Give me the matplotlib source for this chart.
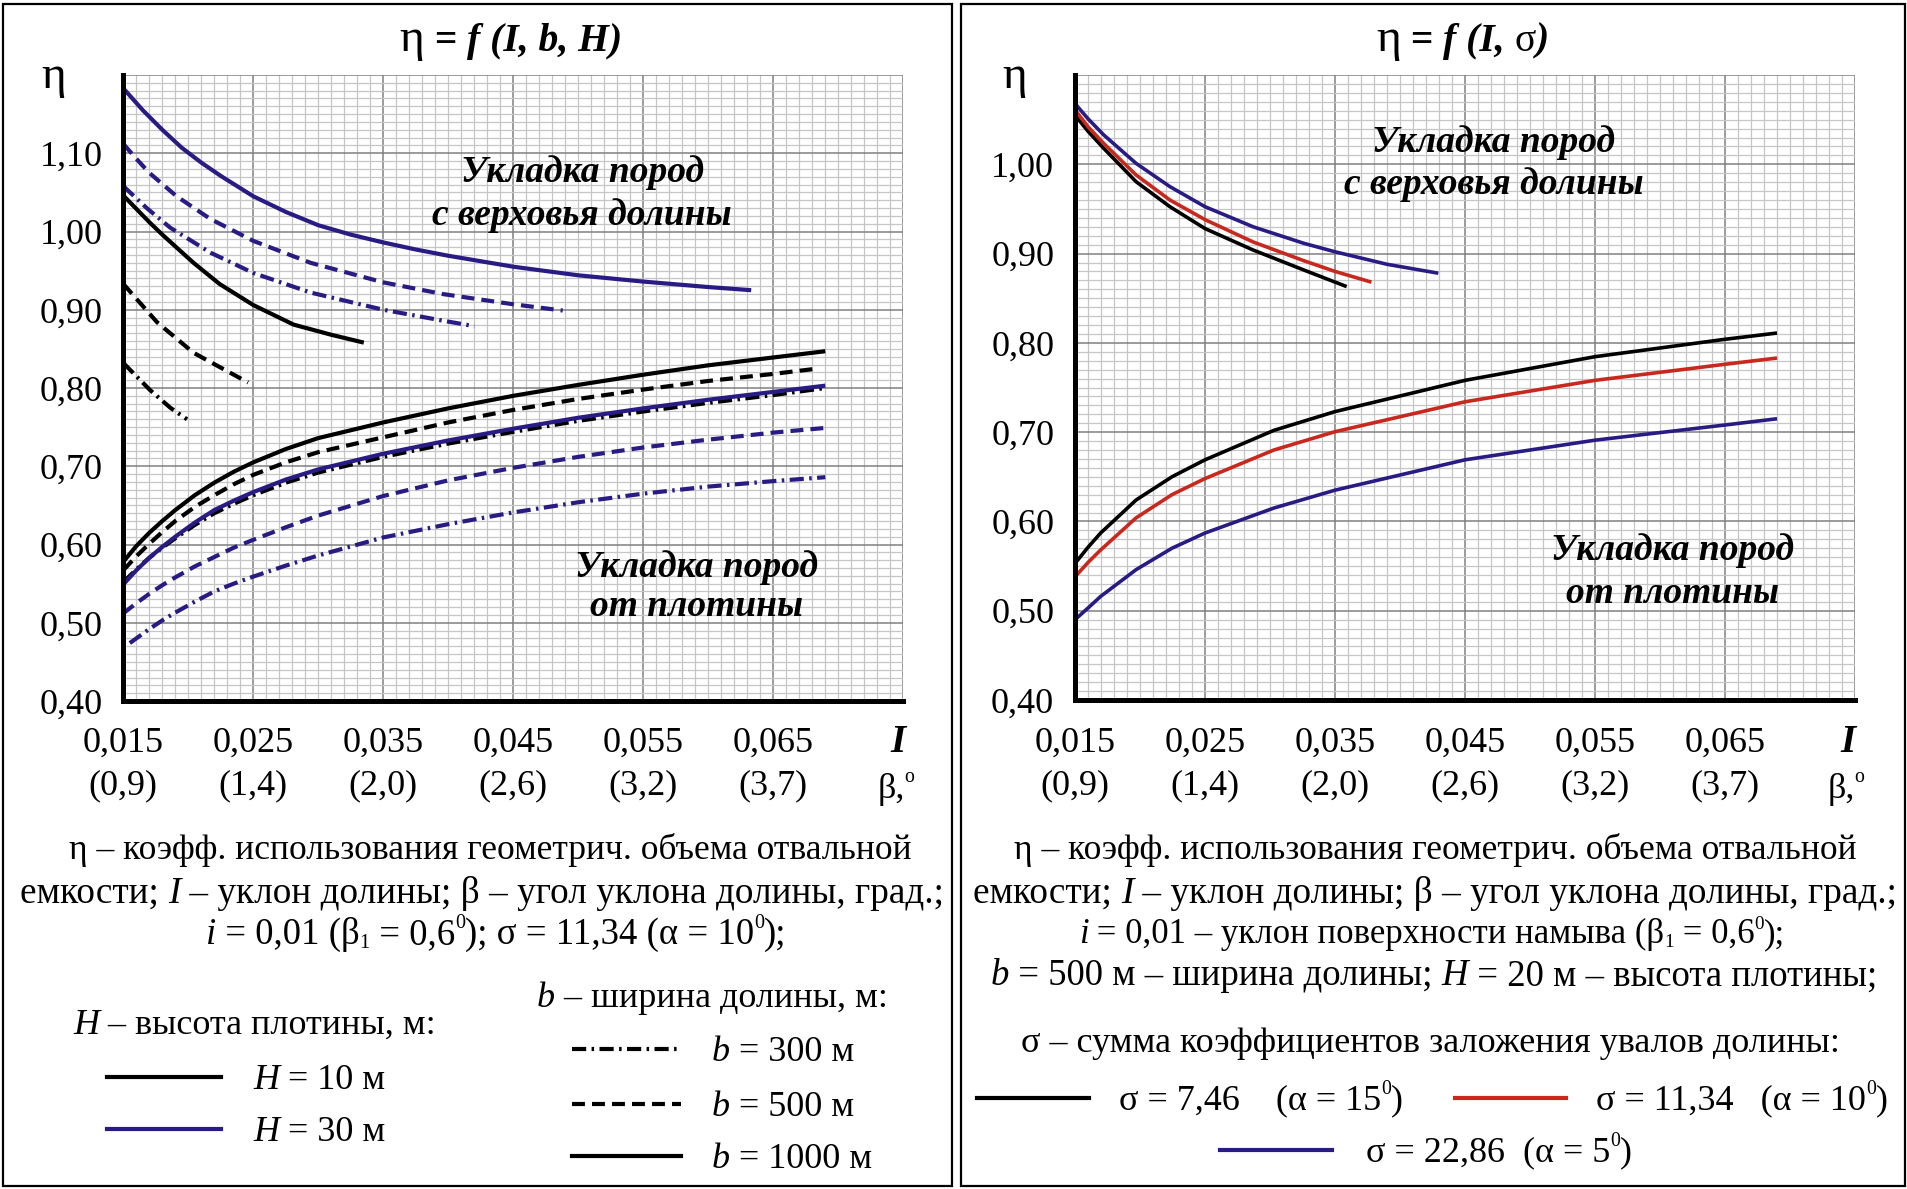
import numpy as np
import matplotlib
matplotlib.use('Agg')
import matplotlib.pyplot as plt
from matplotlib.lines import Line2D
from matplotlib.patches import Rectangle
from matplotlib.ticker import MultipleLocator
from matplotlib.transforms import blended_transform_factory

# ---------------- data ----------------
x_ticks = [0.015, 0.025, 0.035, 0.045, 0.055, 0.065]
x_tick_labels = ['0,015', '0,025', '0,035', '0,045', '0,055', '0,065']
beta_labels = ['(0,9)', '(1,4)', '(2,0)', '(2,6)', '(3,2)', '(3,7)']
yL_ticks = [0.40, 0.50, 0.60, 0.70, 0.80, 0.90, 1.00, 1.10]
yL_labels = ['0,40', '0,50', '0,60', '0,70', '0,80', '0,90', '1,00', '1,10']
yR_ticks = [0.40, 0.50, 0.60, 0.70, 0.80, 0.90, 1.00]
yR_labels = ['0,40', '0,50', '0,60', '0,70', '0,80', '0,90', '1,00']

# left panel: upper group ("с верховья долины")
up_H30_b1000_x = [0.015, 0.0165, 0.018, 0.0195, 0.021, 0.0225, 0.025, 0.0275, 0.030, 0.0325, 0.035,
                  0.0375, 0.040, 0.045, 0.050, 0.055, 0.060, 0.0633]
up_H30_b1000_y = [1.183, 1.155, 1.130, 1.107, 1.088, 1.071, 1.045, 1.025, 1.008, 0.996, 0.986,
                  0.977, 0.969, 0.955, 0.944, 0.936, 0.929, 0.925]
up_H30_b500_x = [0.015, 0.016, 0.017, 0.0191, 0.0217, 0.025, 0.0294, 0.035, 0.0396, 0.045, 0.0488]
up_H30_b500_y = [1.112, 1.093, 1.075, 1.045, 1.016, 0.988, 0.960, 0.935, 0.920, 0.907, 0.899]
up_H30_b300_x = [0.015, 0.0168, 0.0186, 0.0217, 0.025, 0.0294, 0.035, 0.0396, 0.042]
up_H30_b300_y = [1.058, 1.030, 1.005, 0.973, 0.947, 0.922, 0.900, 0.886, 0.879]
up_H10_b1000_x = [0.015, 0.016, 0.017, 0.018, 0.019, 0.0204, 0.0224, 0.025, 0.0281, 0.031, 0.0335]
up_H10_b1000_y = [1.046, 1.029, 1.012, 0.996, 0.981, 0.960, 0.933, 0.906, 0.881, 0.868, 0.858]
up_H10_b500_x = [0.015, 0.0176, 0.0204, 0.0246]
up_H10_b500_y = [0.933, 0.884, 0.845, 0.807]
up_H10_b300_x = [0.015, 0.01705, 0.0186, 0.0199]
up_H10_b300_y = [0.832, 0.7975, 0.775, 0.760]

# left panel: lower group ("от плотины")
lo_x = [0.015, 0.016, 0.017, 0.018, 0.019, 0.0205, 0.022, 0.0235, 0.025, 0.0275, 0.030,
        0.035, 0.040, 0.045, 0.050, 0.055, 0.060, 0.065, 0.069]
lo_H10_b1000_y = [0.578, 0.598, 0.615, 0.630, 0.644, 0.663, 0.679, 0.693, 0.705, 0.722, 0.736,
                  0.756, 0.774, 0.790, 0.804, 0.817, 0.829, 0.839, 0.847]
lo_H10_b500_x = [0.015, 0.016, 0.017, 0.018, 0.019, 0.0205, 0.022, 0.0235, 0.025, 0.0275, 0.030,
                 0.035, 0.040, 0.045, 0.050, 0.055, 0.060, 0.065, 0.068]
lo_H10_b500_y = [0.567, 0.585, 0.601, 0.616, 0.630, 0.648, 0.663, 0.677, 0.689, 0.705, 0.718,
                 0.737, 0.756, 0.772, 0.786, 0.798, 0.809, 0.818, 0.824]
lo_H10_b300_y = [0.552, 0.568, 0.583, 0.596, 0.608, 0.625, 0.640, 0.652, 0.663, 0.679, 0.692,
                 0.712, 0.729, 0.744, 0.758, 0.770, 0.781, 0.791, 0.800]
lo_H30_b1000_y = [0.549, 0.567, 0.583, 0.597, 0.610, 0.628, 0.644, 0.656, 0.667, 0.683, 0.696,
                  0.716, 0.733, 0.748, 0.762, 0.774, 0.785, 0.795, 0.803]
lo_H30_b500_y = [0.512, 0.525, 0.537, 0.548, 0.558, 0.572, 0.584, 0.596, 0.606, 0.622, 0.637,
                 0.662, 0.682, 0.698, 0.712, 0.724, 0.734, 0.743, 0.749]
lo_H30_b300_x = [0.0155, 0.016, 0.017, 0.018, 0.019, 0.0205, 0.022, 0.0235, 0.025, 0.0275, 0.030,
                 0.035, 0.040, 0.045, 0.050, 0.055, 0.060, 0.065, 0.069]
lo_H30_b300_y = [0.474, 0.480, 0.492, 0.503, 0.513, 0.527, 0.540, 0.550, 0.559, 0.573, 0.586,
                 0.609, 0.626, 0.641, 0.654, 0.665, 0.674, 0.681, 0.686]

# right panel: upper group
rup_s22_x = [0.015, 0.016, 0.0172, 0.0197, 0.0223, 0.025, 0.0287, 0.0326, 0.035, 0.039, 0.04295]
rup_s22_y = [1.068, 1.051, 1.033, 1.001, 0.975, 0.9525, 0.930, 0.9115, 0.902, 0.888, 0.878]
rup_s11_x = [0.015, 0.016, 0.0172, 0.0197, 0.0223, 0.025, 0.0287, 0.0326, 0.035, 0.0378]
rup_s11_y = [1.061, 1.042, 1.0235, 0.988, 0.960, 0.938, 0.913, 0.892, 0.880, 0.868]
rup_s7_x = [0.015, 0.016, 0.0172, 0.0197, 0.0223, 0.025, 0.0287, 0.0326, 0.0359]
rup_s7_y = [1.055, 1.037, 1.018, 0.9805, 0.9525, 0.928, 0.904, 0.8816, 0.863]

# right panel: lower group
rlo_x = [0.015, 0.016, 0.01697, 0.0197, 0.02246, 0.025, 0.0303, 0.035, 0.045, 0.055, 0.065, 0.069]
rlo_s7_y = [0.553, 0.571, 0.587, 0.624, 0.650, 0.669, 0.702, 0.723, 0.758, 0.7845, 0.804, 0.811]
rlo_s11_y = [0.538, 0.554, 0.568, 0.604, 0.630, 0.648, 0.680, 0.7005, 0.734, 0.758, 0.776, 0.783]
rlo_s22_y = [0.490, 0.503, 0.516, 0.546, 0.570, 0.587, 0.615, 0.635, 0.669, 0.691, 0.708, 0.715]

# ---------------- style ----------------
W, H = 1908, 1189
DPI = 100
SERIF = 'Liberation Serif'
plt.rcParams['font.family'] = SERIF
BLACK = '#000000'
BLUE = '#281c84'
RED = '#c8281e'
LW = 3.0
LWR = 2.6
SOLID = '-'
DASHED = (0, (3.1, 1.7))
DASHDOT = (0, (3.4, 1.3, 0.6, 1.3))

fig = plt.figure(figsize=(W / DPI, H / DPI), dpi=DPI, facecolor='white')


def fx(px):
    return px / W


def fy(py):
    return 1 - py / H


axL = fig.add_axes([fx(123.3), fy(701), 780 / W, 626 / H])
axR = fig.add_axes([fx(1075), fy(700), 780 / W, 625 / H])


def setup(ax, ymax, yt, yl):
    ax.set_xlim(0.015, 0.075)
    ax.set_ylim(0.40, ymax)
    ax.set_xticks(x_ticks + [0.075], [''] * 7)
    ax.set_yticks(yt + [round(yt[-1] + 0.1, 2)], yl + [''])
    ax.xaxis.set_minor_locator(MultipleLocator(0.001))
    ax.yaxis.set_minor_locator(MultipleLocator(0.01))
    ax.grid(which='minor', color='#c6c6c6', lw=0.9)
    ax.grid(which='major', color='#808080', lw=1.1)
    ax.set_axisbelow(True)
    for s in ['top', 'right']:
        ax.spines[s].set_visible(False)
    for s in ['left', 'bottom']:
        ax.spines[s].set_linewidth(3.6)
        ax.spines[s].set_color('black')
    ax.tick_params(which='both', length=0)
    ax.tick_params(axis='y', labelsize=26, pad=15)
    for lab in ax.get_yticklabels():
        lab.set_family(SERIF)
    trans = blended_transform_factory(ax.transData, fig.transFigure)
    for xv, l1, l2 in zip(x_ticks, x_tick_labels, beta_labels):
        ax.text(xv, fy(743), l1, transform=trans, ha='center', va='center', fontsize=26, family=SERIF)
        ax.text(xv, fy(786), l2, transform=trans, ha='center', va='center', fontsize=26, family=SERIF)


setup(axL, 1.20, yL_ticks, yL_labels)
setup(axR, 1.10, yR_ticks, yR_labels)

kw = dict(lw=LW, solid_capstyle='butt', dash_capstyle='butt', solid_joinstyle='round')
kwr = dict(lw=LWR, solid_capstyle='butt', solid_joinstyle='round')
# left upper
axL.plot(up_H30_b1000_x, up_H30_b1000_y, color=BLUE, ls=SOLID, **kw)
axL.plot(up_H30_b500_x, up_H30_b500_y, color=BLUE, ls=DASHED, **kw)
axL.plot(up_H30_b300_x, up_H30_b300_y, color=BLUE, ls=DASHDOT, **kw)
axL.plot(up_H10_b1000_x, up_H10_b1000_y, color=BLACK, ls=SOLID, **kw)
axL.plot(up_H10_b500_x, up_H10_b500_y, color=BLACK, ls=DASHED, **kw)
axL.plot(up_H10_b300_x, up_H10_b300_y, color=BLACK, ls=DASHDOT, **kw)
# left lower
axL.plot(lo_x, lo_H10_b1000_y, color=BLACK, ls=SOLID, **kw)
axL.plot(lo_H10_b500_x, lo_H10_b500_y, color=BLACK, ls=DASHED, **kw)
axL.plot(lo_x, lo_H10_b300_y, color=BLACK, ls=DASHDOT, **kw)
axL.plot(lo_x, lo_H30_b1000_y, color=BLUE, ls=SOLID, **kw)
axL.plot(lo_x, lo_H30_b500_y, color=BLUE, ls=DASHED, **kw)
axL.plot(lo_H30_b300_x, lo_H30_b300_y, color=BLUE, ls=DASHDOT, **kw)
# right
axR.plot(rup_s7_x, rup_s7_y, color=BLACK, **kwr)
axR.plot(rup_s11_x, rup_s11_y, color=RED, **kwr)
axR.plot(rup_s22_x, rup_s22_y, color=BLUE, **kwr)
axR.plot(rlo_x, rlo_s7_y, color=BLACK, **kwr)
axR.plot(rlo_x, rlo_s11_y, color=RED, **kwr)
axR.plot(rlo_x, rlo_s22_y, color=BLUE, **kwr)

# in-plot annotations
ann = dict(fontsize=27, fontweight='bold', fontstyle='italic', ha='center', va='center', family=SERIF)
axL.text(0.0503, 1.075, 'Укладка пород', **ann)
axL.text(0.0503, 1.020, 'с верховья долины', **ann)
axL.text(0.0591, 0.571, 'Укладка пород', **ann)
axL.text(0.0591, 0.521, 'от плотины', **ann)
axR.text(0.0472, 1.024, 'Укладка пород', **ann)
axR.text(0.0472, 0.977, 'с верховья долины', **ann)
axR.text(0.061, 0.567, 'Укладка пород', **ann)
axR.text(0.061, 0.519, 'от плотины', **ann)

# ---------------- rich text helper ----------------
renderer = fig.canvas.get_renderer()
N = {}
IT = {'style': 'italic'}
B = {'weight': 'bold'}
BI = {'style': 'italic', 'weight': 'bold'}
BIG = {'scale': 1.2}
SUP = {'scale': 0.55, 'dy': 0.42}
SUB = {'scale': 0.55, 'dy': -0.12}


def props(kwd, size):
    return dict(fontsize=size * kwd.get('scale', 1), fontstyle=kwd.get('style', 'normal'),
                fontweight=kwd.get('weight', 'normal'), family=SERIF)


def rich(segs, x, yc, size, ha='center'):
    spx = size * DPI / 72.0
    base = yc + 0.32 * spx
    widths = []
    for s, kd in segs:
        p = props(kd, size)
        t1 = fig.text(0, 0, s + 'I', **p)
        t2 = fig.text(0, 0, 'I', **p)
        w = t1.get_window_extent(renderer).width - t2.get_window_extent(renderer).width
        t1.remove()
        t2.remove()
        widths.append(w)
    tot = sum(widths)
    cx = x - tot / 2 if ha == 'center' else x
    for (s, kd), w in zip(segs, widths):
        p = props(kd, size)
        fig.text(fx(cx), fy(base - kd.get('dy', 0) * spx), s, ha='left', va='baseline', **p)
        cx += w


CAP = 26
# titles and axis names
rich([('η', BIG), (' = ', B), ('f (I, b, H)', BI)], 511, 38, 28.5)
rich([('η', BIG), (' = ', B), ('f (I, ', BI), ('σ', N), (')', BI)], 1463, 38, 28.5)
fig.text(fx(54), fy(77), 'η', ha='center', va='center', fontsize=34, family=SERIF)
fig.text(fx(1015), fy(77), 'η', ha='center', va='center', fontsize=34, family=SERIF)
for xi in (898, 1848):
    fig.text(fx(xi), fy(743), 'I', ha='center', va='center', fontsize=28, fontweight='bold',
             fontstyle='italic', family=SERIF)
    rich([('β,', N), ('o', SUP)], xi - 2, 786, 26)

# captions
line1 = [('η – коэфф. использования геометрич. объема отвальной', N)]
line2 = [('емкости; ', N), ('I', IT), (' – уклон долины; β – угол уклона долины, град.;', N)]
for cxp in (490, 1435):
    rich(line1, cxp, 848, 25.6)
    rich(line2, cxp - 8 if cxp < 900 else cxp, 890.7, 26.8)
rich([('i', IT), (' = 0,01 (β', N), ('1', SUB), (' = 0,6', N), ('0', SUP), ('); σ = 11,34 (α = 10', N),
      ('0', SUP), (');', N)], 496, 932, 26.5)
rich([('i', IT), (' = 0,01 – уклон поверхности намыва (β', N), ('1', SUB), (' = 0,6', N), ('0', SUP),
      (');', N)], 1432, 932, 25)
rich([('b', IT), (' = 500 м – ширина долины; ', N), ('H', IT), (' = 20 м – высота плотины;', N)],
     1434, 973.5, 26.5)
rich([('σ – сумма коэффициентов заложения увалов долины:', N)], 1430, 1040, CAP)

# left legend
rich([('H', IT), (' – высота плотины, м:', N)], 73, 1022, CAP, ha='left')
rich([('b', IT), (' – ширина долины, м:', N)], 537, 995, CAP, ha='left')
leg_H = [('10', BLACK, 1077), ('30', BLUE, 1129)]
for val, col, yy in leg_H:
    fig.add_artist(Line2D([fx(107), fx(221)], [fy(yy), fy(yy)], color=col, lw=LW, transform=fig.transFigure))
    rich([('H', IT), (' = ' + val + ' м', N)], 253, yy, CAP, ha='left')
leg_b = [('300', DASHDOT, 1049), ('500', DASHED, 1104), ('1000', SOLID, 1156)]
for val, ls, yy in leg_b:
    fig.add_artist(Line2D([fx(572), fx(681)], [fy(yy), fy(yy)], color=BLACK, lw=LW, ls=ls,
                          dash_capstyle='butt', transform=fig.transFigure))
    rich([('b', IT), (' = ' + val + ' м', N)], 712, yy, CAP, ha='left')

# right legend
leg_s = [('σ = 7,46    (α = 15', BLACK, 977, 1089, 1119, 1097.5),
         ('σ = 11,34   (α = 10', RED, 1455, 1566, 1596, 1097.5),
         ('σ = 22,86  (α = 5', BLUE, 1220, 1332, 1366, 1150)]
for txt, col, x0, x1, xt, yy in leg_s:
    fig.add_artist(Line2D([fx(x0), fx(x1)], [fy(yy), fy(yy)], color=col, lw=LW, transform=fig.transFigure))
    rich([(txt, N), ('0', SUP), (')', N)], xt, yy, CAP, ha='left')

# panel borders
fig.add_artist(Rectangle((fx(3), fy(1186)), 949 / W, 1182 / H, transform=fig.transFigure,
                         fill=False, lw=1.6, ec='black'))
fig.add_artist(Rectangle((fx(961), fy(1186)), 944 / W, 1182 / H, transform=fig.transFigure,
                         fill=False, lw=1.6, ec='black'))

fig.savefig('out.png', dpi=DPI, facecolor='white')
